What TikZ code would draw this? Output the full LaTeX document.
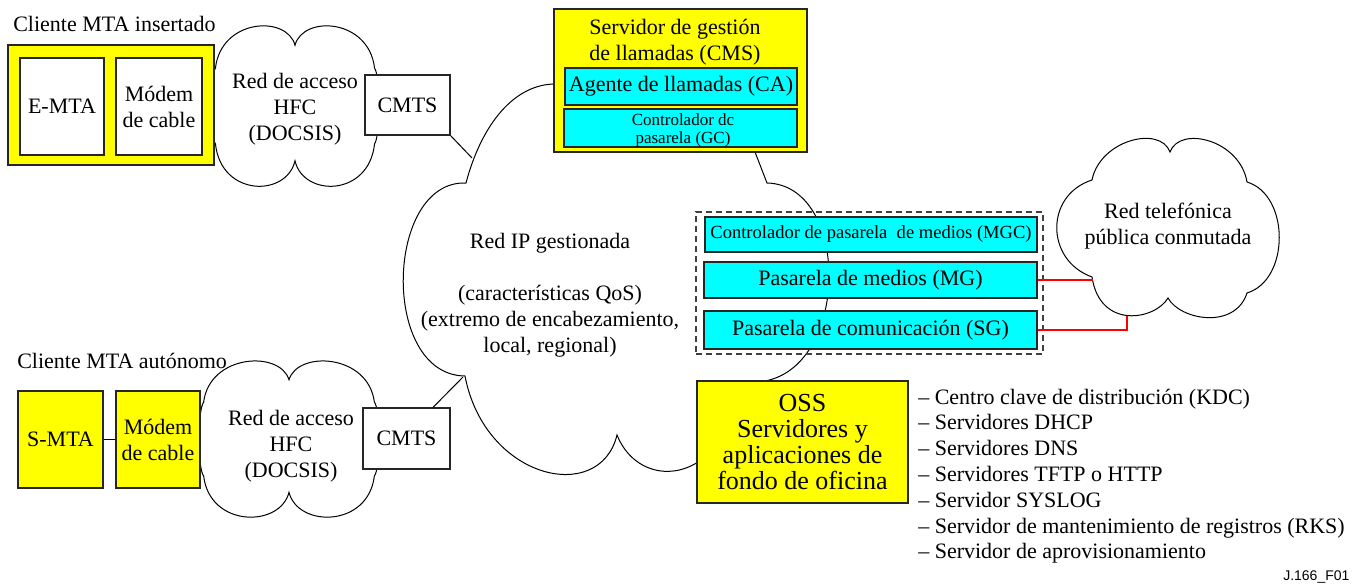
\documentclass[tikz,border=0pt]{standalone}
\usepackage{fontspec}
\setmainfont{Liberation Serif}
\newfontfamily\labelsans{Liberation Sans}
\usetikzlibrary{calc}
\definecolor{boxyellow}{RGB}{255,255,0}
\definecolor{boxcyan}{RGB}{0,255,255}
\definecolor{linkred}{RGB}{255,0,0}
\newcommand\fbig{\fontsize{16.5}{19.5}\selectfont}
\newcommand\fhuge{\fontsize{19.5}{19.5}\selectfont}
\newcommand\fmid{\fontsize{13.9}{15}\selectfont}
\newcommand\fsml{\fontsize{12.75}{13.5}\selectfont}
\tikzset{
  frame/.style={draw=black!85, line width=0.8pt, inner sep=0pt, align=center},
  sz/.style 2 args={minimum width={#1*0.75pt}, minimum height={#2*0.75pt}},
  ybox/.style={frame, fill=boxyellow},
  cbox/.style={frame, fill=boxcyan},
  wbox/.style={frame, fill=white},
  cloudline/.style={draw=black, line width=0.75pt},
  link/.style={draw=black, line width=0.75pt},
  redlink/.style={draw=linkred, line width=1.5pt},
  lbl/.style={inner sep=0pt, align=center},
  groupframe/.style={draw=black!75, line width=0.8pt, dash pattern=on 4.5pt off 3pt, inner sep=0pt},
}
\begin{document}
\begin{tikzpicture}[x=0.75pt,y=-0.75pt,font=\fbig]
\useasboundingbox (0,0) rectangle (1361,585);

% managed IP network cloud (parts run behind the server boxes)
\draw[cloudline] (600,80) -- (553,84)
  .. controls (510,86) and (480,130) .. (466,183)
  .. controls (385,180) and (380,375) .. (465,376)
  .. controls (485,480) and (600,505) .. (617,435)
  .. controls (635,480) and (690,485) .. (720,440)
  -- (765,381)
  .. controls (850,365) and (850,185) .. (767,183)
  -- (755,152) -- (700,100) -- cycle;
\coordinate (ipA) at (472,158);
\coordinate (ipB) at (463,377);

% HFC access clouds
\begin{scope}[shift={(295,106)}, xscale=82, yscale=76]
  \draw[cloudline] (-0.97,-0.5)
    .. controls (-0.9,-1.15) and (-0.1,-1.2) .. (0,-0.8)
    .. controls (0.1,-1.2) and (0.9,-1.15) .. (0.97,-0.5)
    .. controls (1.04,-0.4) and (1.04,0.4) .. (0.97,0.5)
    .. controls (0.9,1.2) and (0.1,1.2) .. (0,0.72)
    .. controls (-0.1,1.2) and (-0.9,1.2) .. (-0.97,0.5)
    .. controls (-1.04,0.4) and (-1.04,-0.4) .. cycle;
\end{scope}
\begin{scope}[shift={(289,439)}, xscale=88, yscale=74]
  \draw[cloudline] (-0.97,-0.5)
    .. controls (-0.9,-1.15) and (-0.1,-1.2) .. (0,-0.8)
    .. controls (0.1,-1.2) and (0.9,-1.15) .. (0.97,-0.5)
    .. controls (1.04,-0.4) and (1.04,0.4) .. (0.97,0.5)
    .. controls (0.9,1.2) and (0.1,1.2) .. (0,0.72)
    .. controls (-0.1,1.2) and (-0.9,1.2) .. (-0.97,0.5)
    .. controls (-1.04,0.4) and (-1.04,-0.4) .. cycle;
\end{scope}

% public switched telephone network cloud
\draw[cloudline] (1092,180)
  .. controls (1100,140) and (1160,125) .. (1170,152)
  .. controls (1180,125) and (1240,140) .. (1247,182)
  .. controls (1290,195) and (1290,280) .. (1247,293)
  .. controls (1235,330) and (1180,320) .. (1168,298)
  .. controls (1155,320) and (1100,330) .. (1092,277)
  .. controls (1045,260) and (1045,195) .. cycle;
\coordinate (pstnA) at (1093,280);
\coordinate (pstnB) at (1127,316);

% cloud labels
\node[lbl] (hfcA) at (295,109) {Red de acceso\\HFC\\(DOCSIS)};
\node[lbl] (hfcB) at (291,446) {Red de acceso\\HFC\\(DOCSIS)};
\node[lbl] (ipnet) at (550,295) {Red IP gestionada\\[19.5pt](características QoS)\\(extremo de encabezamiento,\\local, regional)};
\node[lbl] (pstn) at (1168,226) {Red telefónica\\pública conmutada};

% embedded MTA client
\node[anchor=base west, inner sep=0pt] (embtitle) at (13,32) {Cliente MTA insertado};
\node[ybox, sz={206}{120}] (embclient) at (111,105) {};
\node[wbox, sz={84}{97}] (emta) at (62,106.5) {E-MTA};
\node[wbox, sz={86}{97}] (modemA) at (159,106.5) {Módem\\de cable};
\node[wbox, sz={85}{60}] (cmtsA) at (407.5,105) {CMTS};

% standalone MTA client
\node[anchor=base west, inner sep=0pt] (stdtitle) at (17,368) {Cliente MTA autónomo};
\node[ybox, sz={85}{97}] (smta) at (60.5,439.5) {S-MTA};
\node[ybox, sz={84}{97}] (modemB) at (158,439.5) {Módem\\de cable};
\node[wbox, sz={87}{61}] (cmtsB) at (406.5,438.5) {CMTS};

% call management server
\node[ybox, sz={253}{143}] (cms) at (680.5,80.5) {};
\node[lbl] (cmstext) at (675,42) {Servidor de gestión\\de llamadas (CMS)};
\node[cbox, sz={232}{37}] (ca) at (681,86.5) {Agente de llamadas (CA)};
\node[cbox, sz={233}{38}] (gc) at (680.5,128) {};
\node[lbl, font=\fsml] (gctext) at (683,130) {Controlador dc\\pasarela (GC)};

% media gateway group
\node[groupframe, sz={347}{142}] (gwgroup) at (869.5,283) {};
\node[cbox, sz={332}{35}, font=\fmid] (mgc) at (871,234.5) {Controlador de pasarela\ \ de medios (MGC)};
\node[cbox, sz={333}{36}] (mg) at (870.5,280) {Pasarela de medios (MG)};
\node[cbox, sz={333}{38}] (sg) at (870.5,330) {Pasarela de comunicación (SG)};

% back office
\node[ybox, sz={211}{122}, font=\fhuge] (oss) at (802.5,442) {OSS\\Servidores y\\aplicaciones de\\fondo de oficina};
\foreach \t [count=\i] in {Centro clave de distribución (KDC), Servidores DHCP, Servidores DNS,
    Servidores TFTP o HTTP, Servidor SYSLOG, Servidor de mantenimiento de registros (RKS),
    Servidor de aprovisionamiento}
  \node[anchor=base west, inner sep=0pt] (item\i) at (918,{404+25.8*(\i-1)}) {– \t};

\node[anchor=base west, inner sep=0pt, font=\labelsans\fontsize{10.5}{12}\selectfont] (figid) at (1283,580) {J.166\_F01};

% connections
\draw[link] (smta.east) -- (modemB.west);
\draw[link] (cmtsA.south east) -- (ipA);
\draw[link] ($(cmtsB.north west)!0.8!(cmtsB.north east)$) -- (ipB);
\draw[redlink] (mg.east) -- (pstnA);
\draw[redlink] (sg.east) -| (pstnB);
\end{tikzpicture}
\end{document}
